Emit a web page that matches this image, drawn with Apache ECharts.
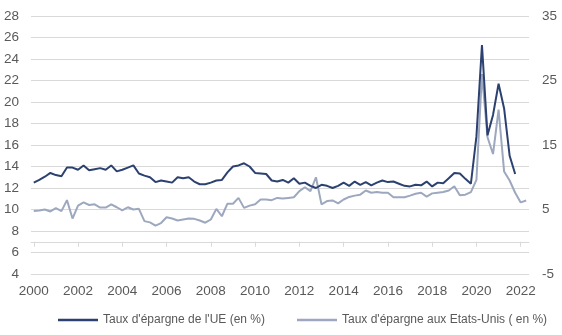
<!DOCTYPE html>
<html>
<head>
<meta charset="utf-8">
<script src="https://cdn.jsdelivr.net/npm/echarts@6/dist/echarts.min.js"></script>
<style>
html,body{margin:0;padding:0;background:#fff;}
#chart{width:562px;height:335px;}
</style>
</head>
<body>
<div id="chart"></div>
<script>
// Quarterly categories 2000T1 .. 2022T2
const years = [2000,2001,2002,2003,2004,2005,2006,2007,2008,2009,2010,2011,2012,2013,2014,2015,2016,2017,2018,2019,2020,2021,2022];
const quarters = ['T1','T2','T3','T4'];
const categories = [];
years.forEach(y => quarters.forEach(q => { if (!(y === 2022 && (q === 'T3' || q === 'T4'))) categories.push(y + q); }));
const tickYears = ['2000','2002','2004','2006','2008','2010','2012','2014','2016','2018','2020','2022'];

const euName = "Taux d'épargne de l'UE (en %)";
const usName = "Taux d'épargne aux Etats-Unis ( en %)";

const euSaving = [
  12.5,12.75,13.05,13.4,13.2,13.1,13.9,13.9,13.7,14.1,
  13.65,13.75,13.85,13.7,14.1,13.55,13.7,13.9,14.1,13.35,
  13.15,13.0,12.55,12.7,12.6,12.5,13.0,12.9,13.0,12.6,
  12.35,12.35,12.5,12.7,12.75,13.45,14.0,14.1,14.3,14.0,
  13.4,13.35,13.3,12.7,12.6,12.75,12.5,12.9,12.4,12.5,
  12.2,12.0,12.3,12.2,12.0,12.2,12.5,12.2,12.6,12.3,
  12.55,12.25,12.5,12.7,12.55,12.6,12.4,12.2,12.15,12.3,
  12.25,12.6,12.15,12.5,12.45,12.9,13.4,13.35,12.85,12.4,
  16.8,25.3,16.9,18.8,21.7,19.4,15.0,13.3
];

const usSaving = [
  4.75,4.85,5.0,4.7,5.2,4.75,6.45,3.6,5.6,6.1,
  5.7,5.8,5.3,5.3,5.8,5.35,4.85,5.35,5.0,5.1,
  3.2,3.0,2.5,2.9,3.8,3.6,3.3,3.45,3.6,3.55,
  3.3,2.95,3.45,5.1,3.95,5.9,5.9,6.8,5.25,5.6,
  5.8,6.55,6.55,6.45,6.8,6.7,6.8,6.9,7.85,8.45,
  7.85,10.0,5.8,6.3,6.4,5.95,6.55,6.95,7.15,7.3,
  7.95,7.6,7.7,7.6,7.6,6.9,6.9,6.9,7.15,7.45,
  7.6,7.0,7.5,7.6,7.7,7.95,8.6,7.2,7.3,7.7,
  9.6,26.0,16.2,13.6,20.5,10.9,9.5,7.6,6.1,6.4
];

const textColor = '#595959';
const gridColor = '#d9d9d9';
const font = "'Liberation Sans', Arial, sans-serif";
const isTick = (idx) => idx % 8 === 0;

const chart = echarts.init(document.getElementById('chart'), null, {renderer: 'canvas'});
chart.setOption({
  animation: false,
  textStyle: {fontFamily: font},
  grid: {left: 31, right: 33, top: 16, bottom: 61, containLabel: false},
  legend: {
    left: 53, top: 309,
    data: [euName, usName],
    icon: 'rect', itemWidth: 40, itemHeight: 2.5, itemGap: 32,
    textStyle: {color: textColor, fontSize: 12, fontFamily: font}
  },
  xAxis: {
    type: 'category',
    data: categories,
    boundaryGap: true,
    axisLine: {show: true, lineStyle: {color: gridColor, width: 1}},
    axisTick: {show: true, alignWithLabel: true, interval: isTick, length: 5, lineStyle: {color: gridColor}},
    axisLabel: {
      interval: isTick,
      margin: 10,
      color: textColor, fontSize: 13.5, fontFamily: font,
      formatter: (v) => { const y = v.slice(0,4); return tickYears.indexOf(y) >= 0 ? y : ''; }
    },
    splitLine: {show: false}
  },
  yAxis: [
    {
      type: 'value', min: 4, max: 28, interval: 2,
      axisLine: {show: false}, axisTick: {show: false},
      axisLabel: {color: textColor, fontSize: 13.5, fontFamily: font, margin: 12},
      splitLine: {show: true, lineStyle: {color: gridColor, width: 1}}
    },
    {
      type: 'value', min: -5, max: 35, interval: 10,
      axisLine: {show: false}, axisTick: {show: false},
      axisLabel: {color: textColor, fontSize: 13.5, fontFamily: font, margin: 13},
      splitLine: {show: false}
    }
  ],
  series: [
    {
      name: usName, type: 'line', yAxisIndex: 1, data: usSaving,
      symbol: 'none', lineStyle: {color: '#9da8bf', width: 2}, itemStyle: {color: '#9da8bf'}
    },
    {
      name: euName, type: 'line', yAxisIndex: 0, data: euSaving,
      symbol: 'none', lineStyle: {color: '#2c4170', width: 2}, itemStyle: {color: '#2c4170'}
    }
  ]
});
</script>
</body>
</html>
